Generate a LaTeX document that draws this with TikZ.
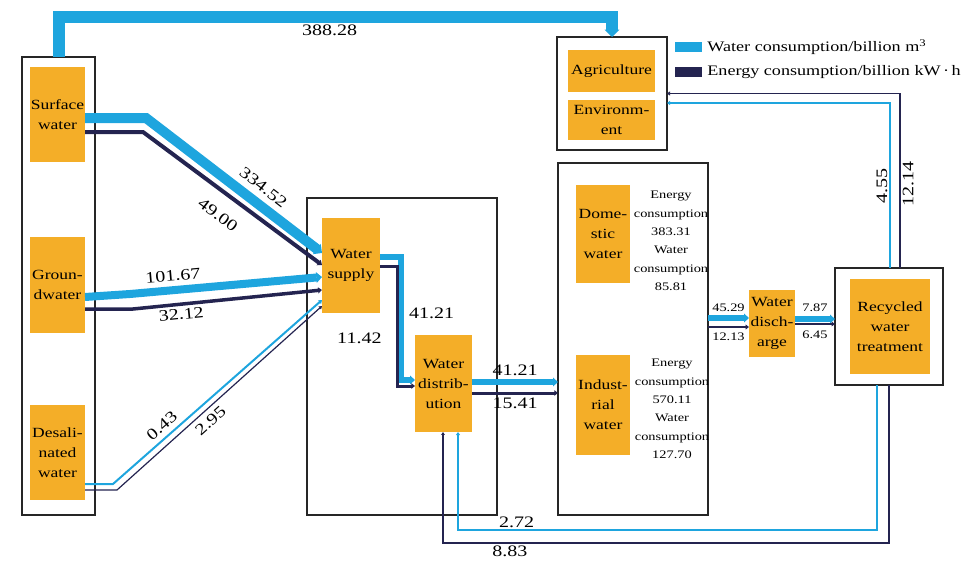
\documentclass[tikz,border=0pt]{standalone}
\usepackage{fontspec}
\setmainfont{Liberation Serif}[FakeStretch=1.25]
\usetikzlibrary{arrows.meta, positioning}

\definecolor{azul}{RGB}{30,165,222}
\definecolor{marino}{RGB}{36,36,80}
\definecolor{naranja}{RGB}{244,174,40}

\begin{document}
\begin{tikzpicture}[x=1pt, y=-1pt,
    grupo/.style={draw=black!85, line width=1.5pt, inner sep=0pt, outer sep=0pt},
    caja/.style={fill=naranja, inner sep=0pt, outer sep=0pt, align=center, font=\fontsize{14}{20}\selectfont},
    flujo/.style={line width=#1, -{Triangle[length=2.5pt 0.4, width=2.5pt 1]}},
    agua/.style={flujo=#1, draw=azul},
    energia/.style={flujo=#1, draw=marino},
    cifra/.style={font=\fontsize{16}{18}\selectfont, inner sep=2pt},
    cifrita/.style={font=\fontsize{11.5}{13}\selectfont, inner sep=1.5pt},
    nota/.style={font=\fontsize{11.5}{18.4}\selectfont, align=center, inner sep=0pt},
    leyenda/.style={font=\fontsize{14.5}{16}\selectfont, inner sep=0pt}]
    \useasboundingbox (0,0) rectangle (969,562);

    % Grupos
    \node (fuentes) [grupo, minimum width=73pt, minimum height=458pt] at (58.5,286) {};
    \node (planta) [grupo, minimum width=190pt, minimum height=317pt] at (402,356.5) {};
    \node (ambiente) [grupo, minimum width=110pt, minimum height=113pt] at (612,93.5) {};
    \node (usos) [grupo, minimum width=150pt, minimum height=352pt] at (633,339) {};
    \node (reciclado) [grupo, minimum width=108pt, minimum height=117pt] at (889,326.5) {};

    % Nodos naranjas
    \node (superficial) [caja, minimum width=55pt, minimum height=95pt] at (57.5,114.5) {Surface\\water};
    \node (subterranea) [caja, minimum width=55pt, minimum height=96pt] at (57.5,285) {Groun-\\dwater};
    \node (desalada) [caja, minimum width=55pt, minimum height=95pt] at (57.5,452.5) {Desali-\\nated\\water};
    \node (abasto) [caja, minimum width=58pt, minimum height=95pt] at (351,265.5) {Water\\supply};
    \node (distribucion) [caja, minimum width=57pt, minimum height=97pt] at (443.5,383.5) {Water\\distrib-\\ution};
    \node (agricultura) [caja, minimum width=87pt, minimum height=42pt] at (611.5,71) {Agriculture};
    \node (entorno) [caja, minimum width=87pt, minimum height=40pt] at (611.5,120) {Environm-\\ent};
    \node (domestica) [caja, minimum width=54pt, minimum height=98pt] at (603,234) {Dome-\\stic\\water};
    \node (industrial) [caja, minimum width=54pt, minimum height=100pt] at (603,405) {Indust-\\rial\\water};
    \node (vertido) [caja, minimum width=46pt, minimum height=67pt] at (772,323.5) {Water\\disch-\\arge};
    \node (tratamiento) [caja, minimum width=80pt, minimum height=95pt] at (890,326.5) {Recycled\\water\\treatment};

    % Consumos
    \node (notadom) [nota] at (671,241) {Energy\\consumption\\383.31\\Water\\consumption\\85.81};
    \node (notaind) [nota] at (672,409) {Energy\\consumption\\570.11\\Water\\consumption\\127.70};

    % Leyenda
    \node (leyagua) [fill=azul, minimum width=27pt, minimum height=10pt, inner sep=0pt] at (688.5,47) {};
    \node (leyenergia) [fill=marino, minimum width=27pt, minimum height=10pt, inner sep=0pt] at (688.5,72) {};
    \node (txtagua) [leyenda, right=5pt of leyagua] {Water consumption/billion m\textsuperscript{3}};
    \node (txtenergia) [leyenda, right=5pt of leyenergia] {Energy consumption/billion kW\,·\,h};

    % Flujos desde las fuentes
    \draw[agua=12pt] (fuentes.north) |- ([yshift=20pt]ambiente.north) node[cifra, pos=0.745, below] (vtop) {388.28} -- (ambiente.north);
    \draw[agua=10pt] ([yshift=-3.5pt]superficial.east) -- (146,118) -- ([yshift=12.5pt]abasto.west) node[cifra, pos=0.61, above=4pt, sloped] (vsupa) {334.52};
    \draw[energia=4pt] ([yshift=-17.5pt]superficial.east) -- (143,132) -- ([yshift=0.5pt]abasto.west) node[cifra, pos=0.49, below=12pt, sloped] (vsupe) {49.00};
    \draw[agua=8pt] ([yshift=-12pt]subterranea.east) -- (130,294) -- ([yshift=-11.5pt]abasto.west) node[cifra, pos=0.23, above=3pt, sloped] (vsuba) {101.67};
    \draw[energia=3.5pt] ([yshift=-24pt]subterranea.east) -- (133,309) -- ([yshift=-24.5pt]abasto.west) node[cifra, pos=0.25, below=1pt, sloped] (vsube) {32.12};
    \draw[agua=2pt] ([yshift=-31.5pt]desalada.east) -- (113,484) -- ([yshift=-34.5pt]abasto.west) node[cifra, pos=0.27, above=3pt, sloped] (vdesa) {0.43};
    \draw[energia=1.2pt] ([yshift=-37.5pt]desalada.east) -- (117,490) -- ([yshift=-40.5pt]abasto.west) node[cifra, pos=0.42, below=3pt, sloped] (vdese) {2.95};

    % Abasto y distribucion
    \draw[agua=6pt] ([yshift=8.5pt]abasto.east) -- ++(21,0) |- ([yshift=3.5pt]distribucion.west) node[cifra, pos=0.23, right=3pt] (vabaa) {41.21};
    \draw[energia=3pt] ([yshift=-1pt]abasto.east) -- ++(17,0) |- ([yshift=-2.5pt]distribucion.west) node[cifra, pos=0.3, left=12pt] (vabae) {11.42};
    \draw[agua=6pt] ([yshift=1.5pt]distribucion.east) -- ([yshift=1.5pt]distribucion.east -| usos.west) node[cifra, midway, above=1pt] (vdisa) {41.21};
    \draw[energia=3pt] ([yshift=-9.5pt]distribucion.east) -- ([yshift=-9.5pt]distribucion.east -| usos.west) node[cifra, midway, below=1pt] (vdise) {15.41};

    % Vertido y reciclado
    \draw[agua=6pt] ([yshift=21pt]usos.east) -- ([yshift=21pt]usos.east -| vertido.west) node[cifrita, midway, above=2pt] (vusoa) {45.29};
    \draw[energia=2.5pt] ([yshift=12pt]usos.east) -- ([yshift=12pt]usos.east -| vertido.west) node[cifrita, midway, below=3pt] (vusoe) {12.13};
    \draw[agua=6pt] ([yshift=4.5pt]vertido.east) -- ([yshift=4.5pt]vertido.east -| reciclado.west) node[cifrita, midway, above=3pt] (vvera) {7.87};
    \draw[energia=2pt] ([yshift=-0.5pt]vertido.east) -- ([yshift=-0.5pt]vertido.east -| reciclado.west) node[cifrita, midway, below=4pt] (vvere) {6.45};

    % Reuso
    \draw[agua=1.5pt] ([xshift=1pt]reciclado.north) |- ([yshift=-9.5pt]ambiente.east) node[cifra, pos=0.25, above, sloped] (vreca) {4.55};
    \draw[energia=1.5pt] ([xshift=11pt]reciclado.north) |- (ambiente.east) node[cifra, pos=0.24, below, sloped] (vrece) {12.14};
    \draw[agua=1.5pt] ([xshift=-12pt]reciclado.south) -- ++(0,145) -| ([xshift=14.5pt]distribucion.south) node[cifra, pos=0.43, above] (vreda) {2.72};
    \draw[energia=1.2pt] (reciclado.south) -- ++(0,158) -| ([xshift=-0.5pt]distribucion.south) node[cifra, pos=0.425, below] (vrede) {8.83};
\end{tikzpicture}
\end{document}
